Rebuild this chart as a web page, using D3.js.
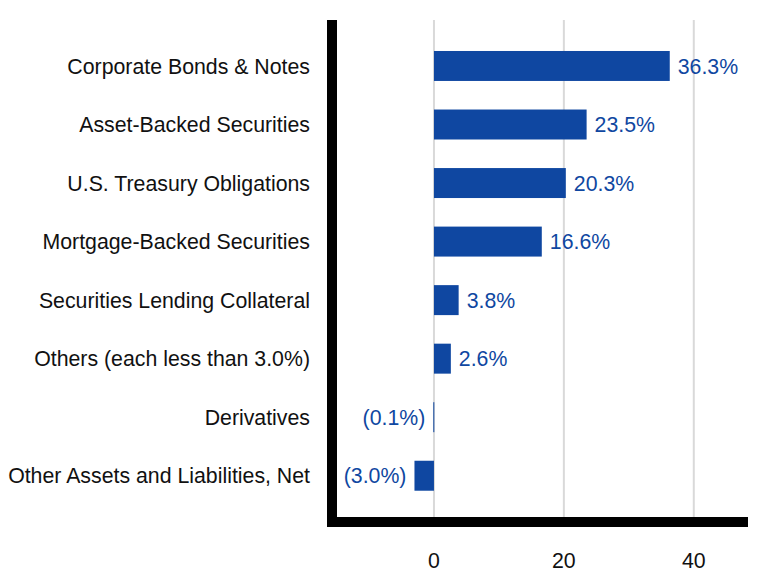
<!DOCTYPE html>
<html lang="en">
<head>
  <meta charset="utf-8">
  <script src="https://d3js.org/d3.v7.min.js"></script>
  <style>
    body { margin: 0; background: #fff; }
    text { font-family: "Liberation Sans", Arial, sans-serif; }
  </style>
</head>
<body>
<script>
  var width = 780, height = 588;

  // chart data
  var categories = [
    'Corporate Bonds & Notes',
    'Asset-Backed Securities',
    'U.S. Treasury Obligations',
    'Mortgage-Backed Securities',
    'Securities Lending Collateral',
    'Others (each less than 3.0%)',
    'Derivatives',
    'Other Assets and Liabilities, Net'
  ];
  var values = [36.3, 23.5, 20.3, 16.6, 3.8, 2.6, -0.1, -3.0];
  var tickValues = [0, 20, 40];

  var svg = d3.select('body')
    .append('svg')
    .attr('width', width)
    .attr('height', height);

  // scales: 6.5px per unit, zero at x=434
  var x = d3.scaleLinear()
    .domain([-15.85, 48.9])
    .range([331, 751.6]);

  var y = d3.scaleBand()
    .domain(categories)
    .range([36.7, 505])
    .paddingInner(0.488)
    .paddingOuter(0.244);

  var barColor = '#0f47a1';
  var fontSize = 21.3;

  // vertical gridlines
  svg.selectAll('line.grid')
    .data(tickValues)
    .join('line')
    .attr('class', 'grid')
    .attr('x1', function(d) { return x(d); })
    .attr('x2', function(d) { return x(d); })
    .attr('y1', 20)
    .attr('y2', 517)
    .attr('stroke', '#d9d9d9')
    .attr('stroke-width', 2);

  // bars
  svg.selectAll('rect.bar')
    .data(values)
    .join('rect')
    .attr('class', 'bar')
    .attr('x', function(d) { return x(Math.min(0, d)); })
    .attr('y', function(d, i) { return y(categories[i]); })
    .attr('width', function(d) { return Math.max(1, Math.abs(x(d) - x(0))); })
    .attr('height', y.bandwidth())
    .attr('fill', barColor);

  // value labels
  function fmt(v) {
    return v < 0 ? '(' + Math.abs(v).toFixed(1) + '%)' : v.toFixed(1) + '%';
  }
  svg.selectAll('text.val')
    .data(values)
    .join('text')
    .attr('class', 'val')
    .attr('x', function(d) { return d < 0 ? x(d) - 8 : x(d) + 8; })
    .attr('y', function(d, i) { return y(categories[i]) + y.bandwidth() / 2; })
    .attr('dy', '0.36em')
    .attr('text-anchor', function(d) { return d < 0 ? 'end' : 'start'; })
    .attr('font-size', fontSize)
    .attr('fill', barColor)
    .text(fmt);

  // category labels
  svg.selectAll('text.cat')
    .data(categories)
    .join('text')
    .attr('class', 'cat')
    .attr('x', 310)
    .attr('y', function(d) { return y(d) + y.bandwidth() / 2; })
    .attr('dy', '0.36em')
    .attr('text-anchor', 'end')
    .attr('font-size', fontSize)
    .attr('fill', '#111')
    .text(function(d) { return d; });

  // x tick labels
  svg.selectAll('text.tick')
    .data(tickValues)
    .join('text')
    .attr('class', 'tick')
    .attr('x', function(d) { return x(d); })
    .attr('y', 560)
    .attr('dy', '0.36em')
    .attr('text-anchor', 'middle')
    .attr('font-size', fontSize)
    .attr('fill', '#111')
    .text(function(d) { return d; });

  // thick axis lines
  svg.append('rect')
    .attr('x', 327).attr('y', 20)
    .attr('width', 10).attr('height', 507)
    .attr('fill', '#000');
  svg.append('rect')
    .attr('x', 327).attr('y', 517)
    .attr('width', 421).attr('height', 10)
    .attr('fill', '#000');
</script>
</body>
</html>
